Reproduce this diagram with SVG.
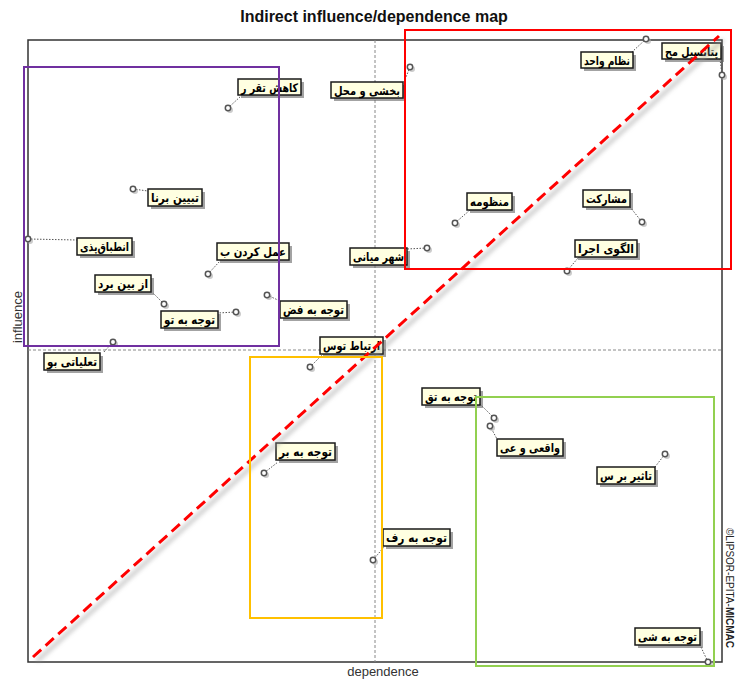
<svg xmlns="http://www.w3.org/2000/svg" width="735" height="682" viewBox="0 0 735 682">
<defs>
<style>
.frame{fill:none;stroke:#333;stroke-width:1.5}
.mid{stroke:#888;stroke-width:1;stroke-dasharray:3 2;fill:none}
.box{fill:#FFFFE1;stroke:#1a1a1a;stroke-width:1.5}
.sh{fill:#666;opacity:.6}
.lbl{font-family:"DejaVu Sans",sans-serif;font-weight:bold;font-size:12px;fill:#000;text-anchor:middle}
.pt{fill:#fff;stroke:#555;stroke-width:1.5}
.ptsh{fill:#aaa;opacity:.6}
.lead{stroke:#555;stroke-width:1;stroke-dasharray:1.5 1.5;fill:none}
.ax{font-family:"Liberation Sans",Arial,sans-serif;font-size:13px;fill:#333}
.grp{fill:none;stroke-width:2}
</style>
<filter id="blur" x="-10%" y="-10%" width="120%" height="120%"><feGaussianBlur stdDeviation="2"/></filter>
</defs>
<rect width="735" height="682" fill="#fff"/>
<text x="374" y="22" font-family="Liberation Sans,Arial,sans-serif" font-weight="bold" font-size="16" fill="#111" text-anchor="middle">Indirect influence/dependence map</text>
<rect class="frame" x="28" y="40" width="694" height="622"/>
<line class="mid" x1="375" y1="40" x2="375" y2="662"/>
<line class="mid" x1="28" y1="350" x2="722" y2="350"/>
<text class="ax" x="383" y="676" text-anchor="middle">dependence</text>
<text class="ax" transform="translate(22,317) rotate(-90)" text-anchor="middle">influence</text>
<text transform="translate(726,528) rotate(90)" font-family="Liberation Sans,Arial,sans-serif" font-size="10" fill="#222">©LIPSOR-EPITA-<tspan font-weight="bold">MICMAC</tspan></text>

<g id="connectors">
<line class="lead" x1="228" y1="108" x2="241" y2="96"/>
<line class="lead" x1="410" y1="67" x2="404" y2="82"/>
<line class="lead" x1="646" y1="39" x2="632" y2="52"/>
<line class="lead" x1="722" y1="75" x2="720" y2="59"/>
<line class="lead" x1="133" y1="189" x2="148" y2="191"/>
<line class="lead" x1="28" y1="239" x2="77" y2="240"/>
<line class="lead" x1="208" y1="274" x2="220" y2="261"/>
<line class="lead" x1="164" y1="304" x2="153" y2="293"/>
<line class="lead" x1="236" y1="312" x2="218" y2="313"/>
<line class="lead" x1="267" y1="295" x2="280" y2="301"/>
<line class="lead" x1="113" y1="342" x2="103" y2="353"/>
<line class="lead" x1="427" y1="248" x2="407" y2="249"/>
<line class="lead" x1="310" y1="367" x2="323" y2="354"/>
<line class="lead" x1="455" y1="223" x2="470" y2="210"/>
<line class="lead" x1="642" y1="222" x2="630" y2="207"/>
<line class="lead" x1="567" y1="271" x2="578" y2="258"/>
<line class="lead" x1="494" y1="418" x2="480" y2="404"/>
<line class="lead" x1="490" y1="426" x2="497" y2="439"/>
<line class="lead" x1="665" y1="454" x2="655" y2="467"/>
<line class="lead" x1="373" y1="560" x2="384" y2="547"/>
<line class="lead" x1="708" y1="662" x2="700" y2="645"/>
<line class="lead" x1="264" y1="473" x2="278" y2="462"/>
</g>

<g id="n1"><circle class="ptsh" cx="230" cy="110" r="3"/><circle class="pt" cx="228" cy="108" r="2.7"/><rect class="sh" x="241" y="82" width="63" height="16"/><rect class="box" x="238" y="79" width="63" height="16"/><text class="lbl" x="269.5" y="91.5" textLength="57" lengthAdjust="spacingAndGlyphs">کاهش تقر ر</text></g>
<g id="n2"><circle class="ptsh" cx="412" cy="69" r="3"/><circle class="pt" cx="410" cy="67" r="2.7"/><rect class="sh" x="334" y="85" width="72" height="16"/><rect class="box" x="331" y="82" width="72" height="16"/><text class="lbl" x="367" y="94.5" textLength="66" lengthAdjust="spacingAndGlyphs">بخشی و محل</text></g>
<g id="n3"><circle class="ptsh" cx="648" cy="41" r="3"/><circle class="pt" cx="646" cy="39" r="2.7"/><rect class="sh" x="584" y="55" width="52" height="16"/><rect class="box" x="581" y="52" width="52" height="16"/><text class="lbl" x="607" y="64.5" textLength="46" lengthAdjust="spacingAndGlyphs">نظام واحد</text></g>
<g id="n4"><circle class="ptsh" cx="724" cy="77" r="3"/><circle class="pt" cx="722" cy="75" r="2.7"/><rect class="sh" x="665" y="46" width="59" height="16"/><rect class="box" x="662" y="43" width="59" height="16"/><text class="lbl" x="691.5" y="55.5" textLength="53" lengthAdjust="spacingAndGlyphs">پتانسیل مح</text></g>
<g id="n5"><circle class="ptsh" cx="135" cy="191" r="3"/><circle class="pt" cx="133" cy="189" r="2.7"/><rect class="sh" x="151" y="192" width="54" height="17"/><rect class="box" x="148" y="189" width="54" height="17"/><text class="lbl" x="175" y="202" textLength="48" lengthAdjust="spacingAndGlyphs">تبیین برنا</text></g>
<g id="n6"><circle class="ptsh" cx="30" cy="241" r="3"/><circle class="pt" cx="28" cy="239" r="2.7"/><rect class="sh" x="80" y="241" width="55" height="17"/><rect class="box" x="77" y="238" width="55" height="17"/><text class="lbl" x="104.5" y="251" textLength="49" lengthAdjust="spacingAndGlyphs">انطباق‌پذی</text></g>
<g id="n7"><circle class="ptsh" cx="210" cy="276" r="3"/><circle class="pt" cx="208" cy="274" r="2.7"/><rect class="sh" x="220" y="246" width="72" height="17"/><rect class="box" x="217" y="243" width="72" height="17"/><text class="lbl" x="253" y="256" textLength="66" lengthAdjust="spacingAndGlyphs">عمل کردن ب</text></g>
<g id="n8"><circle class="ptsh" cx="166" cy="306" r="3"/><circle class="pt" cx="164" cy="304" r="2.7"/><rect class="sh" x="98" y="278" width="56" height="17"/><rect class="box" x="95" y="275" width="56" height="17"/><text class="lbl" x="123" y="288" textLength="50" lengthAdjust="spacingAndGlyphs">از بین برد</text></g>
<g id="n9"><circle class="ptsh" cx="238" cy="314" r="3"/><circle class="pt" cx="236" cy="312" r="2.7"/><rect class="sh" x="164" y="314" width="57" height="17"/><rect class="box" x="161" y="311" width="57" height="17"/><text class="lbl" x="189.5" y="324" textLength="51" lengthAdjust="spacingAndGlyphs">توجه به تو</text></g>
<g id="n10"><circle class="ptsh" cx="269" cy="297" r="3"/><circle class="pt" cx="267" cy="295" r="2.7"/><rect class="sh" x="283" y="304" width="67" height="17"/><rect class="box" x="280" y="301" width="67" height="17"/><text class="lbl" x="313.5" y="314" textLength="61" lengthAdjust="spacingAndGlyphs">توجه به فض</text></g>
<g id="n11"><circle class="ptsh" cx="115" cy="344" r="3"/><circle class="pt" cx="113" cy="342" r="2.7"/><rect class="sh" x="47" y="356" width="56" height="17"/><rect class="box" x="44" y="353" width="56" height="17"/><text class="lbl" x="72" y="366" textLength="50" lengthAdjust="spacingAndGlyphs">تعلیاتی بو</text></g>
<g id="n12"><circle class="ptsh" cx="429" cy="250" r="3"/><circle class="pt" cx="427" cy="248" r="2.7"/><rect class="sh" x="353" y="251" width="57" height="17"/><rect class="box" x="350" y="248" width="57" height="17"/><text class="lbl" x="378.5" y="261" textLength="51" lengthAdjust="spacingAndGlyphs">شهر میانی</text></g>
<g id="n13"><circle class="ptsh" cx="312" cy="369" r="3"/><circle class="pt" cx="310" cy="367" r="2.7"/><rect class="sh" x="323" y="340" width="63" height="17"/><rect class="box" x="320" y="337" width="63" height="17"/><text class="lbl" x="351.5" y="350" textLength="57" lengthAdjust="spacingAndGlyphs">ارتباط توس</text></g>
<g id="n14"><circle class="ptsh" cx="457" cy="225" r="3"/><circle class="pt" cx="455" cy="223" r="2.7"/><rect class="sh" x="470" y="196" width="45" height="17"/><rect class="box" x="467" y="193" width="45" height="17"/><text class="lbl" x="489.5" y="206" textLength="39" lengthAdjust="spacingAndGlyphs">منظومه</text></g>
<g id="n15"><circle class="ptsh" cx="644" cy="224" r="3"/><circle class="pt" cx="642" cy="222" r="2.7"/><rect class="sh" x="586" y="193" width="47" height="17"/><rect class="box" x="583" y="190" width="47" height="17"/><text class="lbl" x="606.5" y="203" textLength="41" lengthAdjust="spacingAndGlyphs">مشارکت</text></g>
<g id="n16"><circle class="ptsh" cx="569" cy="273" r="3"/><circle class="pt" cx="567" cy="271" r="2.7"/><rect class="sh" x="578" y="243" width="62" height="17"/><rect class="box" x="575" y="240" width="62" height="17"/><text class="lbl" x="606" y="253" textLength="56" lengthAdjust="spacingAndGlyphs">الگوی اجرا</text></g>
<g id="n17"><circle class="ptsh" cx="496" cy="420" r="3"/><circle class="pt" cx="494" cy="418" r="2.7"/><rect class="sh" x="425" y="391" width="58" height="17"/><rect class="box" x="422" y="388" width="58" height="17"/><text class="lbl" x="451" y="401" textLength="52" lengthAdjust="spacingAndGlyphs">توجه به تق</text></g>
<g id="n18"><circle class="ptsh" cx="492" cy="428" r="3"/><circle class="pt" cx="490" cy="426" r="2.7"/><rect class="sh" x="500" y="442" width="66" height="17"/><rect class="box" x="497" y="439" width="66" height="17"/><text class="lbl" x="530" y="452" textLength="60" lengthAdjust="spacingAndGlyphs">واقعی و عی</text></g>
<g id="n19"><circle class="ptsh" cx="667" cy="456" r="3"/><circle class="pt" cx="665" cy="454" r="2.7"/><rect class="sh" x="600" y="470" width="58" height="17"/><rect class="box" x="597" y="467" width="58" height="17"/><text class="lbl" x="626" y="480" textLength="52" lengthAdjust="spacingAndGlyphs">تاثیر بر س</text></g>
<g id="n20"><circle class="ptsh" cx="375" cy="562" r="3"/><circle class="pt" cx="373" cy="560" r="2.7"/><rect class="sh" x="386" y="532" width="67" height="17"/><rect class="box" x="383" y="529" width="67" height="17"/><text class="lbl" x="416.5" y="542" textLength="61" lengthAdjust="spacingAndGlyphs">توجه به رف</text></g>
<g id="n21"><circle class="ptsh" cx="710" cy="664" r="3"/><circle class="pt" cx="708" cy="662" r="2.7"/><rect class="sh" x="638" y="631" width="65" height="17"/><rect class="box" x="635" y="628" width="65" height="17"/><text class="lbl" x="667.5" y="641" textLength="59" lengthAdjust="spacingAndGlyphs">توجه به شی</text></g>
<g id="n22"><circle class="ptsh" cx="266" cy="475" r="3"/><circle class="pt" cx="264" cy="473" r="2.7"/><rect class="sh" x="279" y="446" width="59" height="17"/><rect class="box" x="276" y="443" width="59" height="17"/><text class="lbl" x="305.5" y="456" textLength="53" lengthAdjust="spacingAndGlyphs">توجه به بر</text></g>

<g id="diagonal">
<line x1="37" y1="661" x2="723" y2="40" stroke="#999" stroke-width="4" opacity=".5" filter="url(#blur)"/>
<line x1="33" y1="657" x2="719" y2="36" stroke="#f00" stroke-width="3" stroke-dasharray="11 6"/>
</g>
<g id="groups">
<rect class="grp" x="24" y="67" width="255" height="279" stroke="#7030A0"/>
<rect class="grp" x="405" y="30" width="326" height="239" stroke="#f00"/>
<rect class="grp" x="250" y="357" width="132" height="261" stroke="#FFC000"/>
<rect class="grp" x="476" y="397" width="238" height="269" stroke="#92D050"/>
</g>
</svg>
